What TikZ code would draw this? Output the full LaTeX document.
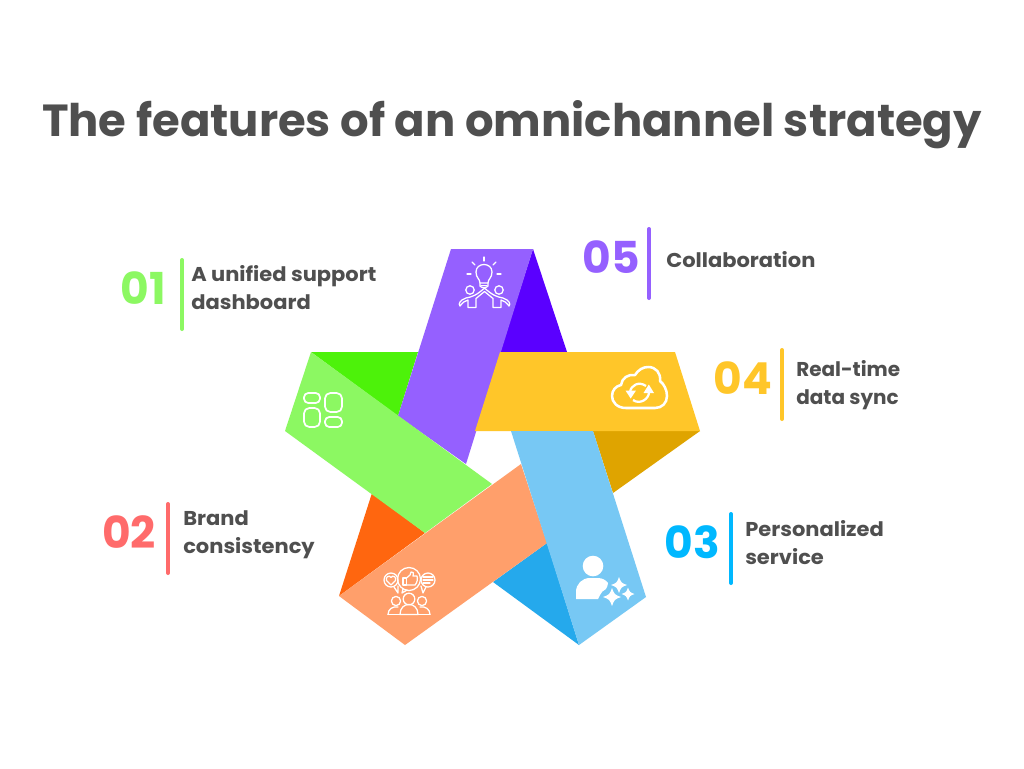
\documentclass[tikz,border=0pt]{standalone}
\usepackage{fontspec}
\setmainfont{Poppins}
\newfontfamily\widefont[FakeStretch=1.05]{Poppins}
\definecolor{ink}{HTML}{4F4F4F}
\definecolor{cGreen}{HTML}{8CF862}\definecolor{dGreen}{HTML}{4DF20A}
\definecolor{cPurple}{HTML}{9560FF}\definecolor{dPurple}{HTML}{5A00FF}
\definecolor{cYellow}{HTML}{FFC629}\definecolor{dYellow}{HTML}{DFA400}
\definecolor{cBlue}{HTML}{77C8F4}\definecolor{dBlue}{HTML}{25A9EC}
\definecolor{cOrange}{HTML}{FF9F6B}\definecolor{dOrange}{HTML}{FF660F}
\definecolor{nRed}{HTML}{FF6B6B}\definecolor{nBlue}{HTML}{00B8FF}
\tikzset{
  titletext/.style={font=\bfseries\fontsize{33.7}{40}\selectfont,text=ink,inner sep=0pt},
  numtext/.style={font=\bfseries\fontsize{33}{40}\selectfont,inner sep=0pt},
  bodytext/.style={font=\widefont\fontsize{15}{21}\selectfont\bfseries,text=ink,align=left,anchor=west,inner sep=0pt},
  bodyplain/.style={bodytext,font=\fontsize{15}{21}\selectfont\bfseries},
  bar/.style={line width=3pt,line cap=round},
  icon/.style={draw=white,line width=1.3pt,line join=round,line cap=round,fill=none},
  thin icon/.style={draw=white,line width=0.95pt,line join=round,line cap=round,fill=none},
}
\newcommand{\sparkle}[3]{\fill[white] (#1-#3,#2) .. controls (#1-#3*0.3,#2-#3*0.25) and (#1-#3*0.25,#2-#3*0.3) .. (#1,#2-#3) .. controls (#1+#3*0.25,#2-#3*0.3) and (#1+#3*0.3,#2-#3*0.25) .. (#1+#3,#2) .. controls (#1+#3*0.3,#2+#3*0.25) and (#1+#3*0.25,#2+#3*0.3) .. (#1,#2+#3) .. controls (#1-#3*0.25,#2+#3*0.3) and (#1-#3*0.3,#2+#3*0.25) .. (#1-#3,#2) -- cycle;}
\begin{document}
\begin{tikzpicture}[x=0.75pt,y=-0.75pt]
\fill[white] (0,0) rectangle (1024,768);
\useasboundingbox (0,0) rectangle (1024,768);

\node[titletext] (title) at (512,125) {The features of an omnichannel strategy};

% star: dark folds
\fill[dPurple] (533,249) -- (567,352) -- (500,352) -- cycle;
\fill[dGreen] (311,352) -- (418,352) -- (398,416) -- cycle;
\fill[dYellow] (593,431) -- (700,431) -- (613,493) -- cycle;
\fill[dBlue] (547,543) -- (579,645) -- (493,582) -- cycle;
\fill[dOrange] (339,596) -- (372,493) -- (425,533) -- cycle;
% star: bands
\fill[cPurple] (451,249) -- (533,249) -- (466,464) -- (398,416) -- cycle;
\fill[cGreen] (311,352) -- (285,431) -- (425,533) -- (492,484) -- cycle;
\fill[cYellow] (500,352) -- (675,352) -- (700,431) -- (475,431) -- cycle;
\fill[cOrange] (521,464) -- (547,543) -- (405,645) -- (339,596) -- cycle;
\fill[cBlue] (511,431) -- (593,431) -- (646,597) -- (579,645) -- cycle;

% icon: dashboard
\draw[icon,rounded corners=3.2pt] (304,393) rectangle (320,403);
\draw[icon,rounded corners=4pt] (304,408) rectangle (320,427);
\draw[icon,rounded corners=4pt] (325,393) rectangle (342,412);
\draw[icon,rounded corners=3.2pt] (325,417) rectangle (342,427);

% icon: collaboration bulb
\draw[thin icon] (480,283) .. controls (480,279) and (476,278) .. (476,272) .. controls (476,262) and (492,262) .. (492,272) .. controls (492,278) and (488,279) .. (488,283) -- cycle;
\draw[thin icon] (480,283) -- (480,286) .. controls (481,288) and (487,288) .. (488,286) -- (488,283);
\draw[thin icon] (481,285.5) -- (487,285.5);
\draw[thin icon] (484,257) -- (484,261);
\draw[thin icon] (472,262) -- (475,265);
\draw[thin icon] (496,262) -- (493,265);
\draw[thin icon] (467,274) -- (471,274);
\draw[thin icon] (497,274) -- (501,274);
\draw[thin icon] (470,290) circle[radius=4.2];
\draw[thin icon] (499,290) circle[radius=4.2];
\draw[thin icon] (460,306) .. controls (458,304) and (460,300) .. (466,298) .. controls (472,297) and (477,295) .. (484.5,288) .. controls (492,295) and (497,297) .. (503,298) .. controls (509,300) and (511,304) .. (509,306) .. controls (506,302) and (504,301) .. (501,300) -- (501,307.5) -- (493,307.5) -- (493,298.5) -- (484.5,291.5) -- (476,298.5) -- (476,307.5) -- (468,307.5) -- (468,300) .. controls (465,301) and (463,302) .. (460,306) -- cycle;

% icon: cloud sync
\draw[icon,line width=1.9pt] (626,408) .. controls (617,408) and (612,402) .. (612,396) .. controls (612,390) and (616,386) .. (621,385) .. controls (622,378) and (628,374) .. (635,375) .. controls (638,370) and (643,367) .. (648,367) .. controls (656,367) and (661,373) .. (660,381) .. controls (664,384) and (667,390) .. (667,396) .. controls (667,403) and (662,408) .. (655,408) -- cycle;
\draw[icon,line width=1.7pt,line cap=butt] (630,392) .. controls (631,385) and (639,381) .. (646,386);
\draw[icon,line width=1.7pt,line cap=butt] (649,392) .. controls (649,399) and (640,405) .. (633,400);
\fill[white] (625.5,390.5) -- (636,390.5) -- (630.7,398.5) -- cycle;
\fill[white] (643.5,393) -- (654,393) -- (648.8,384.5) -- cycle;

% icon: personalized
\fill[white] (593,566) circle[radius=10.3];
\fill[white] (576,599) -- (576,592) .. controls (576,584) and (582,578) .. (590,578) -- (598,578) .. controls (602,578) and (606,580) .. (608,583) .. controls (609,585) and (606,587) .. (606,589) .. controls (603,590) and (601,593) .. (600,595) -- (598,599) -- cycle;
\sparkle{619}{585}{8}
\sparkle{612}{597}{9}
\sparkle{628}{594}{6.5}

% icon: brand feedback
\draw[thin icon] (391,580) circle[radius=7];
\draw[thin icon] (428,580) circle[radius=7];
\draw[thin icon] (409,579) circle[radius=11.5];
\draw[thin icon] (398,586) -- (398,593) -- (394,587);
\draw[thin icon] (421,586) -- (423,593) -- (426,587);
\draw[thin icon] (403,589) -- (402,593) -- (407,590);
\draw[thin icon] (391,585) -- (386.5,580.5) .. controls (385,577) and (389.5,574.5) .. (391,577.5) .. controls (392.5,574.5) and (397,577) .. (395.5,580.5) -- cycle;
\draw[thin icon] (403,578) rectangle (406.5,585);
\draw[thin icon] (406.5,578) -- (410,575) -- (411,572) .. controls (413,571) and (414,573) .. (413,576) -- (417,576) .. controls (418,579) and (417,583) .. (415,585) -- (406.5,585);
\draw[thin icon] (423,577) -- (433,577);
\draw[thin icon] (423,580) -- (433,580);
\draw[thin icon] (423,583) -- (430,583);
\draw[thin icon] (396,601) circle[radius=4.6];
\draw[thin icon] (409,599) circle[radius=5.8];
\draw[thin icon] (422,601) circle[radius=4.6];
\draw[thin icon] (400,614.5) .. controls (400,601) and (418,601) .. (418,614.5) -- cycle;
\draw[thin icon] (388,614.5) .. controls (388,609) and (393,606) .. (398,607);
\draw[thin icon] (388,614.5) -- (400,614.5);
\draw[thin icon] (430,614.5) .. controls (430,609) and (425,606) .. (420,607);
\draw[thin icon] (418,614.5) -- (430,614.5);

% labels
\node[numtext,text=cGreen] (n1) at (143,288) {01};
\draw[bar,cGreen] (182,260) -- (182,329);
\node[bodytext] (t1) at (191,288) {A unified support\\dashboard};

\node[numtext,text=nRed] (n2) at (129,532) {02};
\draw[bar,nRed] (168,504) -- (168,573);
\node[bodytext] (t2) at (183,535) {Brand\\consistency};

\node[numtext,text=nBlue] (n3) at (692,542) {03};
\draw[bar,nBlue] (731,514) -- (731,583);
\node[bodytext] (t3) at (745,542.5) {Personalized\\service};

\node[numtext,text=cYellow] (n4) at (743,378) {04};
\draw[bar,cYellow] (782,350) -- (782,419);
\node[bodyplain] (t4) at (796,385) {Real-time\\data sync};

\node[numtext,text=cPurple] (n5) at (611,257) {05};
\draw[bar,cPurple] (649,229) -- (649,298);
\node[bodytext] (t5) at (666,260) {Collaboration};
\end{tikzpicture}
\end{document}
